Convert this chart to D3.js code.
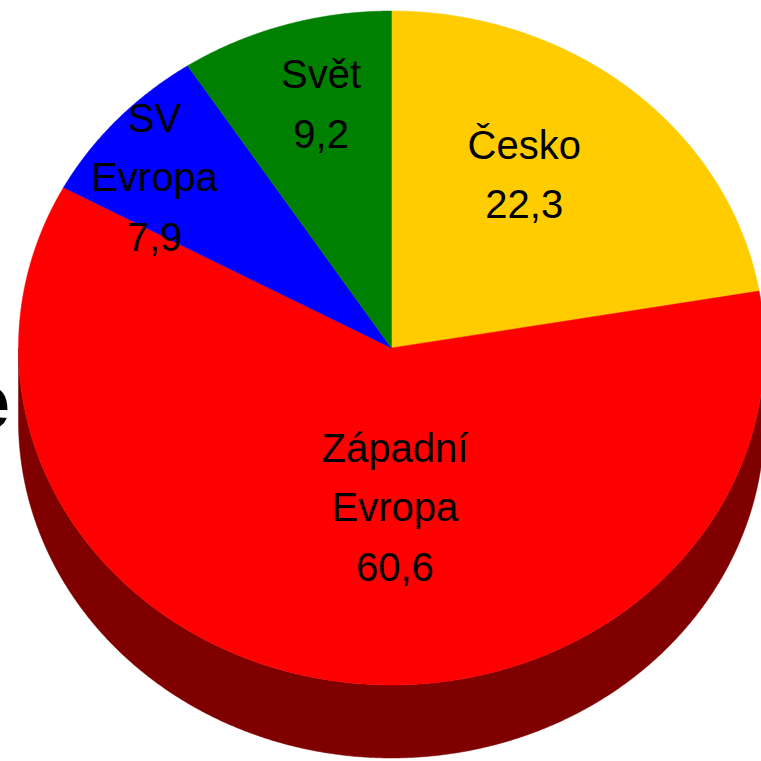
<!DOCTYPE html>
<html>
<head>
<meta charset="utf-8">
<script src="https://cdn.jsdelivr.net/npm/d3@7"></script>
<style>
  html, body { margin: 0; padding: 0; background: #fff; overflow: hidden; }
  svg { display: block; }
</style>
</head>
<body>
<script>
// ---- data ----
const categories = ["Česko", "Západní Evropa", "SV Evropa", "Svět"];
const labelLines = [["Česko"], ["Západní", "Evropa"], ["SV", "Evropa"], ["Svět"]];
const values = [22.3, 60.6, 7.9, 9.2];
const valueLabels = ["22,3", "60,6", "7,9", "9,2"];

// ---- layout / style ----
const W = 761, H = 761;
const cx = 391.5, cy = 348, rx = 373, ry = 337, depth = 73;
const topColors = ["#FFCC00", "#FF0000", "#0000FF", "#008000"];
const sideColors = ["#806600", "#800000", "#000080", "#004000"];
// label placement in normalized pie coordinates: [radius fraction, angle in degrees]
const labelPolar = [[0.627, 34.6], [0.471, 178.9], [0.813, 308.6], [0.749, 345.4]];
const fontSize = 40, lineH = 59.5;

const svg = d3.select("body").append("svg").attr("width", W).attr("height", H);

const xs = d3.scaleLinear().domain([-1, 1]).range([cx - rx, cx + rx]);
const ys = d3.scaleLinear().domain([-1, 1]).range([cy - ry, cy + ry]);
const topColor = d3.scaleOrdinal().domain(categories).range(topColors);
const sideColor = d3.scaleOrdinal().domain(categories).range(sideColors);

function pt(theta, r = 1, dy = 0) {
  return [xs(r * Math.sin(theta)), ys(-r * Math.cos(theta)) + dy];
}
function arcPts(a0, a1, dy = 0) {
  const n = Math.max(2, Math.ceil((a1 - a0) / 0.005));
  const out = [];
  for (let i = 0; i <= n; i++) out.push(pt(a0 + (a1 - a0) * i / n, 1, dy));
  return out;
}

const pie = d3.pie().sort(null).value(d => d.v).startAngle(0).endAngle(2 * Math.PI);
const arcs = pie(categories.map((c, i) => ({ c, v: values[i], i })));
const line = d3.line();

// side walls (front half only)
const sideG = svg.append("g");
arcs.forEach(a => {
  const s = Math.max(a.startAngle, Math.PI / 2);
  const e = Math.min(a.endAngle, 3 * Math.PI / 2);
  if (e <= s) return;
  const ptsTop = arcPts(s, e, 0);
  const ptsBot = arcPts(s, e, depth).reverse();
  sideG.append("path")
    .attr("d", line(ptsTop.concat(ptsBot)) + "Z")
    .attr("fill", sideColor(a.data.c))
    .attr("stroke", sideColor(a.data.c))
    .attr("stroke-width", 0.5);
});

// top faces
const topG = svg.append("g");
arcs.forEach(a => {
  const pts = [[xs(0), ys(0)]].concat(arcPts(a.startAngle, a.endAngle, 0));
  topG.append("path")
    .attr("d", line(pts) + "Z")
    .attr("fill", topColor(a.data.c))
    .attr("stroke", topColor(a.data.c))
    .attr("stroke-width", 0.5);
});

// labels
const labG = svg.append("g")
  .attr("font-family", "'Liberation Sans', Arial, Helvetica, sans-serif")
  .attr("font-size", fontSize)
  .attr("fill", "#000")
  .attr("text-anchor", "middle");
arcs.forEach((a, i) => {
  const [r, deg] = labelPolar[i];
  const [lx, ly] = pt(deg * Math.PI / 180, r);
  const lines = labelLines[i].concat([valueLabels[i]]);
  const n = lines.length;
  const capH = fontSize * 0.716;
  const t = labG.append("text");
  lines.forEach((s, k) => {
    t.append("tspan")
      .attr("x", lx)
      .attr("y", ly + (k - (n - 1) / 2) * lineH + capH / 2)
      .text(s);
  });
});

// clipped fragment of outside text at the left edge
svg.append("text")
  .attr("x", 10).attr("y", 428)
  .attr("text-anchor", "end")
  .attr("font-family", "'Liberation Sans', Arial, sans-serif")
  .attr("font-weight", "bold")
  .attr("font-size", 76)
  .attr("fill", "#000")
  .text("e");
</script>
</body>
</html>
